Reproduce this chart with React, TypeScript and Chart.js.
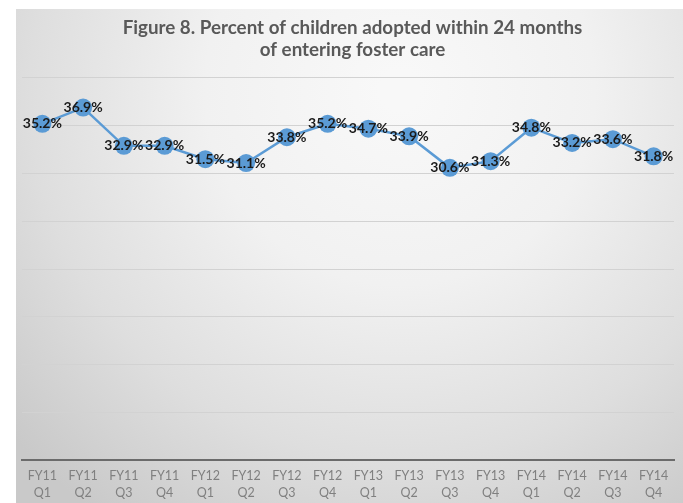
import React, { useEffect, useRef } from "react";
import { Chart, registerables } from "chart.js";

Chart.register(...registerables);

const fiscalYears = ["FY11", "FY11", "FY11", "FY11", "FY12", "FY12", "FY12", "FY12", "FY13", "FY13", "FY13", "FY13", "FY14", "FY14", "FY14", "FY14"];
const quarters = ["Q1", "Q2", "Q3", "Q4", "Q1", "Q2", "Q3", "Q4", "Q1", "Q2", "Q3", "Q4", "Q1", "Q2", "Q3", "Q4"];
const adoptedPct = [35.2, 36.9, 32.9, 32.9, 31.5, 31.1, 33.8, 35.2, 34.7, 33.9, 30.6, 31.3, 34.8, 33.2, 33.6, 31.8];
const titleLines = ["Figure 8. Percent of children adopted within 24 months", "of entering foster care"];

const FONT = "Lato, 'Open Sans', sans-serif";
const W = 683;
const H = 503;

const bgPlugin = {
  id: "bgPlugin",
  beforeDraw(chart: any) {
    const { ctx, width, height } = chart;
    ctx.save();
    ctx.fillStyle = "#ffffff";
    ctx.fillRect(0, 0, width, height);
    const g = ctx.createRadialGradient(400, 90, 20, 400, 90, 520);
    g.addColorStop(0, "#f8f8f8");
    g.addColorStop(0.35, "#f1f1f1");
    g.addColorStop(0.7, "#dedede");
    g.addColorStop(1, "#c9c9c9");
    ctx.fillStyle = g;
    ctx.fillRect(16, 9, width - 16, height - 9);
    ctx.restore();
  },
};

const labelPlugin = {
  id: "labelPlugin",
  afterDatasetsDraw(chart: any) {
    const { ctx } = chart;
    const meta = chart.getDatasetMeta(0);
    const data = chart.data.datasets[0].data;
    ctx.save();
    ctx.font = `bold 14px ${FONT}`;
    ctx.fillStyle = "#1a1a1a";
    ctx.textAlign = "center";
    ctx.textBaseline = "middle";
    meta.data.forEach((pt: any, i: number) => {
      ctx.fillText(`${data[i].toFixed(1)}%`, pt.x, pt.y);
    });
    ctx.restore();
  },
};

export default function App() {
  const ref = useRef<HTMLCanvasElement>(null);
  useEffect(() => {
    if (!ref.current) return;
    const chart = new Chart(ref.current, {
      type: "line",
      data: {
        labels: fiscalYears.map((fy, i) => [fy, quarters[i]]),
        datasets: [
          {
            data: adoptedPct,
            borderColor: "#5b9bd5",
            borderWidth: 2.5,
            pointRadius: 9,
            pointBackgroundColor: "#5b9bd5",
            pointBorderWidth: 0,
            tension: 0,
          },
        ],
      },
      options: {
        responsive: false,
        animation: false,
        layout: { padding: { left: 22, right: 0, top: 0, bottom: -5 } },
        plugins: {
          legend: { display: false },
          tooltip: { enabled: false },
          title: {
            display: true,
            text: titleLines,
            color: "#595959",
            font: { family: FONT, size: 18.8, weight: "bold", lineHeight: 1.17 },
            padding: { top: 17, bottom: 17 },
          },
        },
        scales: {
          x: {
            offset: true,
            grid: { display: false, drawTicks: false },
            border: { color: "#6b6b6b", width: 2 },
            ticks: {
              color: "#808080",
              font: { family: FONT, size: 12.5, lineHeight: 1.35 },
              maxRotation: 0,
              autoSkip: false,
              padding: 7,
            },
          },
          y: {
            min: 0,
            max: 40,
            ticks: { display: false, stepSize: 5 },
            border: { display: false },
            grid: { color: "#d2d2d2", lineWidth: 1, drawTicks: false },
          },
        },
      },
      plugins: [bgPlugin, labelPlugin],
    });
    return () => chart.destroy();
  }, []);
  return (
    <div style={{ position: "absolute", left: 0, top: 0, width: W, height: H }}>
      <canvas ref={ref} width={W} height={H} style={{ display: "block" }} />
    </div>
  );
}
